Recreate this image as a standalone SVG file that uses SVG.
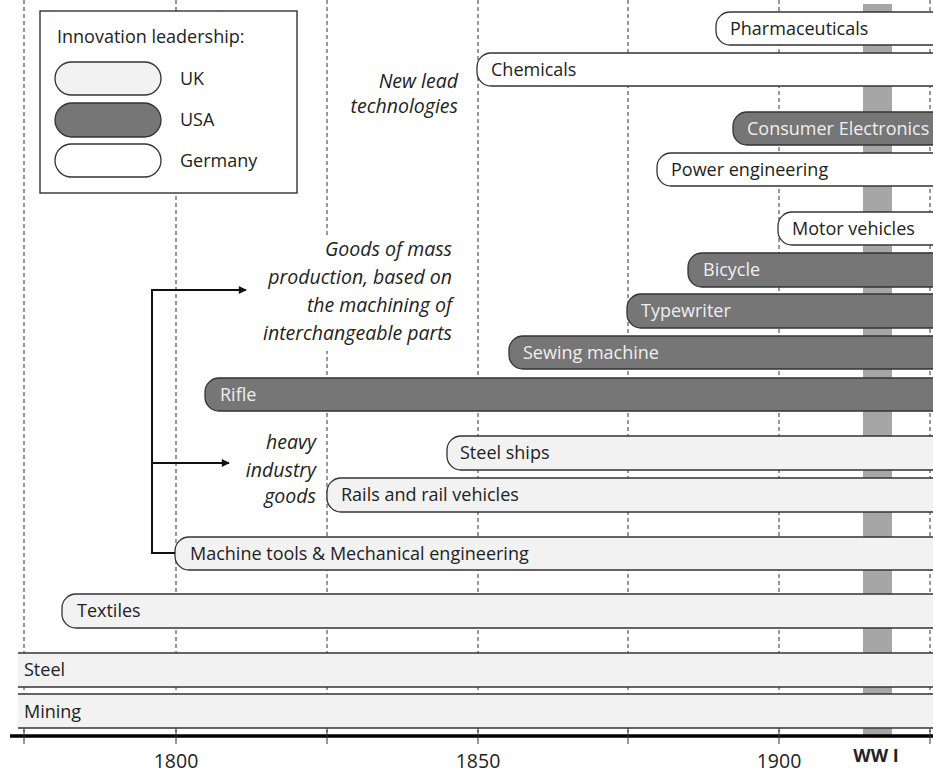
<svg xmlns="http://www.w3.org/2000/svg" width="933" height="776" viewBox="0 0 933 776">
<defs>
<style>
text{font-family:"Open Sans","Noto Sans","Liberation Sans",sans-serif;font-size:18px;fill:#222}
.it{font-style:italic;text-anchor:end;font-size:19.5px}
.yr{font-size:19.5px;text-anchor:middle}
.grid{stroke:#333;stroke-width:1;stroke-dasharray:4 3}
.uk{fill:#f2f2f2;stroke:#333;stroke-width:1.3}
.us{fill:#767676;stroke:#333;stroke-width:1.3}
.de{fill:#fff;stroke:#333;stroke-width:1.3}
.lt{fill:#efefef}
.conn{stroke:#111;stroke-width:2;fill:none}
</style>
<marker id="ah" viewBox="0 0 10 10" refX="9" refY="5" markerWidth="9" markerHeight="8" markerUnits="userSpaceOnUse" orient="auto">
<path d="M0,0 L10,5 L0,10 Z" fill="#111"/>
</marker>
</defs>
<rect width="933" height="776" fill="#fff"/>
<g id="grid">
<line class="grid" x1="24" y1="0" x2="24" y2="737"/>
<line class="grid" x1="176" y1="0" x2="176" y2="737"/>
<line class="grid" x1="327" y1="0" x2="327" y2="737"/>
<line class="grid" x1="478" y1="0" x2="478" y2="737"/>
<line class="grid" x1="628" y1="0" x2="628" y2="737"/>
<line class="grid" x1="779" y1="0" x2="779" y2="737"/>
<line class="grid" x1="930" y1="0" x2="930" y2="737"/>
</g>
<rect id="ww1-band" x="863" y="4" width="29" height="733" fill="#a6a6a6"/>
<g id="legend">
<rect x="40" y="11" width="257" height="182" fill="#fff" stroke="#222" stroke-width="1.3"/>
<text x="57" y="43">Innovation leadership:</text>
<rect class="uk" x="55" y="62" width="106" height="33" rx="16.5"/>
<text x="180" y="85">UK</text>
<rect class="us" x="55" y="103" width="106" height="34" rx="17"/>
<text x="180" y="126">USA</text>
<rect class="de" x="55" y="144" width="106" height="33" rx="16.5"/>
<text x="180" y="167">Germany</text>
</g>
<g id="label-new-lead">
<text class="it" x="458" y="88">New lead</text>
<text class="it" x="458" y="113">technologies</text>
</g>
<g id="label-mass-production">
<rect x="256" y="238" width="202" height="113" fill="#fff"/>
<text class="it" x="452" y="256">Goods of mass</text>
<text class="it" x="452" y="284">production, based on</text>
<text class="it" x="452" y="312">the machining of</text>
<text class="it" x="452" y="340">interchangeable parts</text>
</g>
<g id="label-heavy-industry">
<text class="it" x="316" y="449">heavy</text>
<text class="it" x="316" y="477">industry</text>
<text class="it" x="316" y="503">goods</text>
</g>
<g id="pharmaceuticals"><rect class="de" x="716" y="12" width="260" height="33" rx="14"/><text x="730" y="35">Pharmaceuticals</text></g>
<g id="chemicals"><rect class="de" x="477" y="53" width="500" height="33" rx="14"/><text x="491" y="76">Chemicals</text></g>
<g id="consumer-electronics"><rect class="us" x="733" y="112" width="260" height="33" rx="14"/><text x="747" y="135" class="lt">Consumer Electronics</text></g>
<g id="power-engineering"><rect class="de" x="657" y="153" width="320" height="33" rx="14"/><text x="671" y="176">Power engineering</text></g>
<g id="motor-vehicles"><rect class="de" x="778" y="212" width="200" height="33" rx="14"/><text x="792" y="235">Motor vehicles</text></g>
<g id="bicycle"><rect class="us" x="688" y="253" width="300" height="34" rx="14"/><text x="703" y="276" class="lt">Bicycle</text></g>
<g id="typewriter"><rect class="us" x="627" y="294" width="350" height="34" rx="14"/><text x="641" y="317" class="lt">Typewriter</text></g>
<g id="sewing-machine"><rect class="us" x="509" y="336" width="470" height="33" rx="14"/><text x="523" y="359" class="lt">Sewing machine</text></g>
<g id="rifle"><rect class="us" x="205" y="378" width="780" height="33" rx="14"/><text x="220" y="401" class="lt">Rifle</text></g>
<g id="steel-ships"><rect class="uk" x="447" y="436" width="530" height="34" rx="14"/><text x="460" y="459">Steel ships</text></g>
<g id="rails"><rect class="uk" x="327" y="478" width="650" height="34" rx="14"/><text x="341" y="501">Rails and rail vehicles</text></g>
<g id="machine-tools"><rect class="uk" x="175" y="537" width="800" height="33" rx="14"/><text x="190" y="560">Machine tools &amp; Mechanical engineering</text></g>
<g id="textiles"><rect class="uk" x="62" y="594" width="900" height="34" rx="14"/><text x="77" y="617">Textiles</text></g>
<g id="steel">
<rect x="18" y="653" width="920" height="34" fill="#f2f2f2"/>
<line x1="18" y1="653" x2="933" y2="653" stroke="#333" stroke-width="1.3"/>
<line x1="18" y1="687" x2="933" y2="687" stroke="#333" stroke-width="1.3"/>
<text x="24" y="676">Steel</text>
</g>
<g id="mining">
<rect x="18" y="694" width="920" height="34" fill="#f2f2f2"/>
<line x1="18" y1="694" x2="933" y2="694" stroke="#333" stroke-width="1.3"/>
<line x1="18" y1="728" x2="933" y2="728" stroke="#333" stroke-width="1.3"/>
<text x="24" y="718">Mining</text>
</g>
<g id="connectors">
<polyline class="conn" points="175,553 152,553 152,290 246,290" marker-end="url(#ah)"/>
<line class="conn" x1="152" y1="463" x2="229" y2="463" marker-end="url(#ah)"/>
</g>
<g id="axis">
<line x1="10" y1="736" x2="933" y2="736" stroke="#000" stroke-width="3.5"/>
<g stroke="#333" stroke-width="1">
<line x1="24" y1="730" x2="24" y2="744"/>
<line x1="176" y1="730" x2="176" y2="744"/>
<line x1="327" y1="730" x2="327" y2="744"/>
<line x1="478" y1="730" x2="478" y2="744"/>
<line x1="628" y1="730" x2="628" y2="744"/>
<line x1="779" y1="730" x2="779" y2="744"/>
<line x1="930" y1="730" x2="930" y2="744"/>
</g>
<text class="yr" x="176" y="768">1800</text>
<text class="yr" x="478" y="768">1850</text>
<text class="yr" x="779" y="768">1900</text>
<text x="876" y="762" text-anchor="middle" font-weight="bold" font-size="16.5">WW I</text>
</g>
</svg>
